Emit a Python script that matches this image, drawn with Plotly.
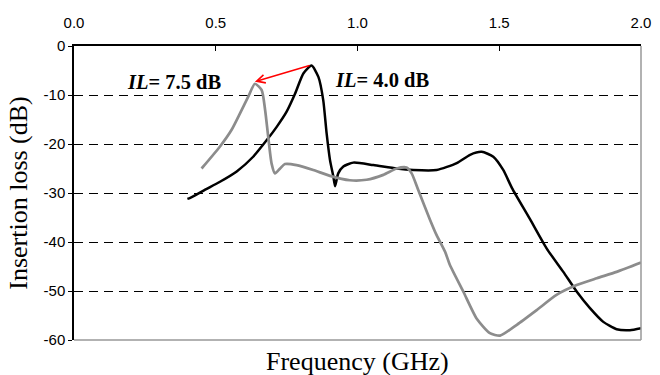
import plotly.graph_objects as go

# Black curve (IL = 4.0 dB)
black_x = [0.40, 0.41, 0.46, 0.515, 0.574, 0.632, 0.68, 0.715, 0.75, 0.78, 0.809, 0.838,
           0.862, 0.879, 0.891, 0.903, 0.915, 0.921, 0.932, 0.95, 0.985, 1.056, 1.138,
           1.197, 1.279, 1.35, 1.397, 1.438, 1.479, 1.514, 1.545, 1.608, 1.667, 1.726,
           1.773, 1.82, 1.867, 1.914, 1.961, 2.0]
black_y = [-31.2, -31.0, -29.4, -27.7, -25.6, -22.6, -19.2, -16.5, -13.4, -9.7, -5.6, -4.0,
           -6.3, -11.0, -17.8, -23.3, -26.7, -28.6, -26.0, -24.6, -23.8, -24.3, -25.0,
           -25.3, -25.3, -23.9, -22.2, -21.6, -22.6, -25.3, -29.0, -35.3, -41.3, -46.1,
           -50.1, -53.5, -56.3, -57.8, -58.0, -57.6]

# Gray curve (IL = 7.5 dB)
gray_x = [0.45, 0.515, 0.556, 0.586, 0.615, 0.638, 0.662, 0.674, 0.685, 0.697, 0.709,
          0.727, 0.744, 0.785, 0.844, 0.903, 0.973, 1.032, 1.091, 1.138, 1.173, 1.191,
          1.215, 1.256, 1.279, 1.309, 1.326, 1.373, 1.42, 1.467, 1.503, 1.562, 1.632,
          1.702, 1.773, 1.844, 1.914, 2.0]
gray_y = [-25.0, -20.5, -17.1, -13.7, -10.3, -7.7, -9.0, -13.0, -18.5, -24.0, -26.0,
          -25.0, -24.1, -24.3, -25.3, -26.5, -27.4, -27.3, -26.3, -25.0, -24.8, -26.0,
          -29.5, -35.5, -38.6, -42.0, -44.7, -50.1, -55.6, -58.6, -59.1, -56.9, -53.9,
          -50.8, -48.8, -47.4, -46.1, -44.2]

x_ticks = [0.0, 0.5, 1.0, 1.5, 2.0]
x_tick_labels = ["0.0", "0.5", "1.0", "1.5", "2.0"]
y_ticks = [0, -10, -20, -30, -40, -50, -60]
y_tick_labels = ["0", "-10", "-20", "-30", "-40", "-50", "-60"]

serif = "Times New Roman, Liberation Serif, serif"
sans = "Arial, Liberation Sans, sans-serif"

fig = go.Figure()
fig.add_trace(go.Scatter(x=black_x, y=black_y, mode="lines",
                         line=dict(color="black", width=2.5, shape="spline", smoothing=0.6),
                         showlegend=False))
fig.add_trace(go.Scatter(x=gray_x, y=gray_y, mode="lines",
                         line=dict(color="#8c8c8c", width=2.7, shape="spline", smoothing=0.6),
                         showlegend=False))

fig.update_layout(
    width=660, height=375,
    margin=dict(l=74, r=19, t=46, b=35),
    paper_bgcolor="white", plot_bgcolor="white",
    showlegend=False,
    xaxis=dict(range=[0, 2.0], side="top", tickvals=x_ticks, ticktext=x_tick_labels,
               automargin=False,
               showgrid=False, zeroline=False, showline=True, linecolor="black",
               linewidth=1.5, ticks="inside", ticklen=5, tickcolor="black",
               ticklabelstandoff=10,
               tickfont=dict(family=sans, size=15, color="black")),
    yaxis=dict(range=[-60, 0], tickvals=y_ticks, ticktext=y_tick_labels,
               automargin=False,
               showgrid=True, gridcolor="black", gridwidth=1, griddash="9px,6px",
               zeroline=False, showline=True, linecolor="black", linewidth=1.5,
               ticks="outside", ticklen=4, tickcolor="black",
               tickfont=dict(family=sans, size=15, color="black"),
               title=dict(text="Insertion loss (dB)", font=dict(family=serif, size=26, color="black"),
                          standoff=8)),
)

# right and bottom gray frame
fig.add_shape(type="line", xref="x domain", yref="y domain", x0=1, x1=1, y0=0, y1=1,
              line=dict(color="#999999", width=1.5))
fig.add_shape(type="line", xref="x domain", yref="y domain", x0=0, x1=1, y0=0, y1=0,
              line=dict(color="#999999", width=1.5))

fig.add_annotation(text="Frequency (GHz)", xref="paper", yref="paper", x=0.5, y=-0.072,
                   yanchor="middle", showarrow=False,
                   font=dict(family=serif, size=26, color="black"))

fig.add_annotation(text="<b><i>IL</i>= 7.5 dB</b>", x=0.527, y=-7.3, xanchor="right",
                   yanchor="middle", showarrow=False,
                   font=dict(family=serif, size=20.5, color="black"))
fig.add_annotation(text="<b><i>IL</i>= 4.0 dB</b>", x=0.914, y=-6.9, xanchor="left",
                   yanchor="middle", showarrow=False,
                   font=dict(family=serif, size=20.5, color="black"))

fig.add_annotation(x=0.638, y=-7.3, ax=0.836, ay=-3.9, axref="x", ayref="y",
                   text="", showarrow=True, arrowhead=5, arrowsize=1.1, arrowwidth=1.5,
                   arrowcolor="red", standoff=0)

fig.write_html("out.html", config={"displayModeBar": False},
               post_script="document.body.style.margin='0';document.body.style.overflow='hidden';")
